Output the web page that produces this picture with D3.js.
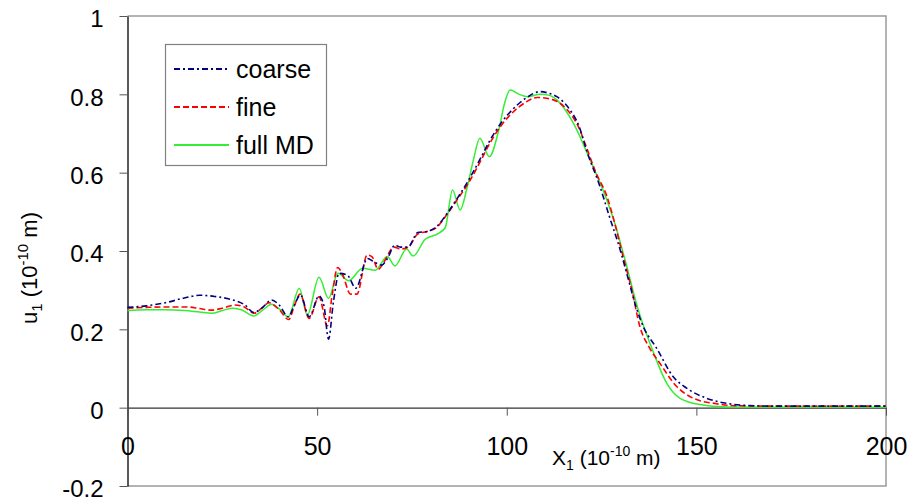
<!DOCTYPE html>
<html><head><meta charset="utf-8">
<script src="https://cdn.jsdelivr.net/npm/d3@7"></script>
<style>
html,body{margin:0;padding:0;background:#fff;}
text{font-family:"Liberation Sans",Arial,sans-serif;fill:#000;}
</style></head>
<body><svg id="c" width="912" height="501"></svg>
<script>
// ---- data ----
const xTicks = [0, 50, 100, 150, 200];
const yTicks = [-0.2, 0, 0.2, 0.4, 0.6, 0.8, 1];
const yTickLabels = ["-0.2", "0", "0.2", "0.4", "0.6", "0.8", "1"];
const seriesNames = ["coarse", "fine", "full MD"];

const coarseX = [0,5,10,15,19,23,27,31,33.3,35.5,38,40,42.4,44,45.6,47.9,50.5,51.8,53,54.3,55.8,58,60.2,63.3,65,67,68.5,70.5,72,74,76.5,79,81.5,84.2,87,90,93,95.6,98.5,101.7,105,108.8,111,113.2,116.7,119,121.1,124.6,127,129.9,132,134,136,139.5,143.9,147.4,152.7,158,162.4,170,200];
const coarseU = [0.256,0.260,0.268,0.280,0.287,0.284,0.277,0.262,0.243,0.255,0.275,0.262,0.232,0.262,0.288,0.232,0.285,0.260,0.175,0.270,0.343,0.338,0.305,0.381,0.372,0.364,0.380,0.415,0.410,0.410,0.447,0.450,0.462,0.495,0.535,0.582,0.635,0.683,0.727,0.763,0.790,0.807,0.803,0.794,0.760,0.720,0.655,0.564,0.490,0.403,0.330,0.260,0.207,0.152,0.079,0.050,0.024,0.011,0.006,0.004,0.004];

const fineX = [0,5,10,16,19,22.2,25,28.3,31,33.3,35.5,37.3,40,42.5,44,45.5,47.9,50.5,52.7,54,55.4,56.7,58.8,60.5,63.2,64.5,66.1,67.5,70.3,72,74,76.5,79,81.5,84.2,87,90,93,95.6,98.5,101.7,105,108,110.5,113,116,119,121,123.5,126.4,128.5,130.3,133,135.1,137.5,140.4,144.8,149.2,155.3,160,170,200];
const fineU = [0.254,0.256,0.257,0.257,0.253,0.249,0.254,0.262,0.256,0.241,0.255,0.268,0.250,0.225,0.260,0.290,0.228,0.283,0.209,0.290,0.358,0.340,0.290,0.290,0.390,0.385,0.353,0.370,0.410,0.405,0.410,0.443,0.450,0.460,0.493,0.532,0.575,0.628,0.676,0.720,0.755,0.780,0.792,0.790,0.783,0.760,0.715,0.665,0.600,0.540,0.470,0.400,0.300,0.207,0.155,0.113,0.054,0.024,0.010,0.005,0.004,0.004];

const mdX = [0,5,10,15,19,22.2,25,27.8,30,33.3,35.5,38,40,42.4,45.3,47.4,50.5,53,55.5,58.3,62,65.3,68.5,70.5,73.6,75.3,78.5,82,83.8,85.7,87.7,89.6,91.2,92.9,95.4,97.8,99.5,100.9,103.3,105.5,108.8,111,113.2,117.6,122,126.4,128.5,131.2,134.7,138.6,142.2,145.7,151,158,170,200];
const mdU = [0.248,0.250,0.250,0.248,0.244,0.241,0.248,0.254,0.250,0.234,0.248,0.264,0.252,0.232,0.305,0.236,0.333,0.279,0.343,0.324,0.356,0.351,0.386,0.362,0.405,0.387,0.430,0.445,0.460,0.556,0.505,0.564,0.632,0.688,0.641,0.705,0.780,0.811,0.800,0.794,0.800,0.798,0.786,0.726,0.632,0.530,0.470,0.377,0.249,0.143,0.062,0.024,0.008,0.002,0.001,0.001];

// ---- chart ----
const svg = d3.select("#c");
const x = d3.scaleLinear().domain([0, 200]).range([127.5, 886]);
const y = d3.scaleLinear().domain([-0.2, 1]).range([486, 16]);

// frame
svg.append("path")
  .attr("d", `M${x(0)},${y(1)}H${x(200)}V${y(-0.2)}H${x(0)}`)
  .attr("fill", "none").attr("stroke", "#9a9a9a").attr("stroke-width", 1.5);

// y axis
const yAxis = d3.axisLeft(y).tickValues(yTicks)
  .tickFormat((d, i) => yTickLabels[i]).tickSizeInner(8).tickSizeOuter(0).tickPadding(16);
const gy = svg.append("g").attr("transform", `translate(${x(0)},0)`).call(yAxis);
gy.select(".domain").attr("stroke", "#000").attr("stroke-width", 1.3);
gy.selectAll(".tick line").attr("stroke", "#555");
gy.selectAll("text").attr("font-size", 24).attr("dy", "0.45em")
  .attr("font-family", "'Liberation Sans',Arial,sans-serif");

// x axis at y=0
const xAxis = d3.axisBottom(x).tickValues(xTicks).tickSizeInner(8).tickSizeOuter(0).tickPadding(22);
const gx = svg.append("g").attr("transform", `translate(0,${y(0)})`).call(xAxis);
gx.select(".domain").attr("stroke", "#333").attr("stroke-width", 1.3);
gx.selectAll(".tick line").attr("stroke", "#555");
gx.selectAll("text").attr("font-size", 25)
  .attr("font-family", "'Liberation Sans',Arial,sans-serif");

// lines
const mk = (xs, us) => xs.map((v, i) => [v, us[i]]);
const line = d3.line().x(d => x(d[0])).y(d => y(d[1])).curve(d3.curveMonotoneX);
const series = [
  {name: seriesNames[0], data: mk(coarseX, coarseU), color: "#000080", dash: "6,3,2,3", w: 1.6},
  {name: seriesNames[1], data: mk(fineX, fineU), color: "#ff0000", dash: "6,3", w: 1.6},
  {name: seriesNames[2], data: mk(mdX, mdU), color: "#33ee33", dash: null, w: 1.5}
];
[series[2], series[1], series[0]].forEach(s => {
  svg.append("path").attr("d", line(s.data)).attr("fill", "none")
    .attr("stroke", s.color).attr("stroke-width", s.w)
    .attr("stroke-dasharray", s.dash);
});

// legend
const lg = svg.append("g");
lg.append("rect").attr("x", 165.5).attr("y", 44.5).attr("width", 161).attr("height", 121)
  .attr("fill", "#fff").attr("stroke", "#808080").attr("stroke-width", 1.2);
series.forEach((s, i) => {
  const yy = 69 + i * 38;
  lg.append("line").attr("x1", 174).attr("x2", 229).attr("y1", yy).attr("y2", yy)
    .attr("stroke", s.color).attr("stroke-width", 2)
    .attr("stroke-dasharray", s.dash);
  lg.append("text").attr("x", 236).attr("y", yy).attr("dy", "0.35em")
    .attr("font-size", 25).text(s.name);
});

// x title
const xt = svg.append("text").attr("x", 552).attr("y", 465).attr("font-size", 21);
xt.append("tspan").text("X");
xt.append("tspan").attr("font-size", 14).attr("dy", 5).text("1");
xt.append("tspan").attr("dy", -5).text(" (10");
xt.append("tspan").attr("font-size", 14).attr("dy", -9).text("-10");
xt.append("tspan").attr("dy", 9).text(" m)");

// y title
const yt = svg.append("text").attr("transform", "translate(37,268) rotate(-90)")
  .attr("text-anchor", "middle").attr("font-size", 22);
yt.append("tspan").text("u");
yt.append("tspan").attr("font-size", 15).attr("dy", 5).text("1");
yt.append("tspan").attr("dy", -5).text(" (10");
yt.append("tspan").attr("font-size", 15).attr("dy", -9).text("-10");
yt.append("tspan").attr("dy", 9).text(" m)");
</script></body></html>
